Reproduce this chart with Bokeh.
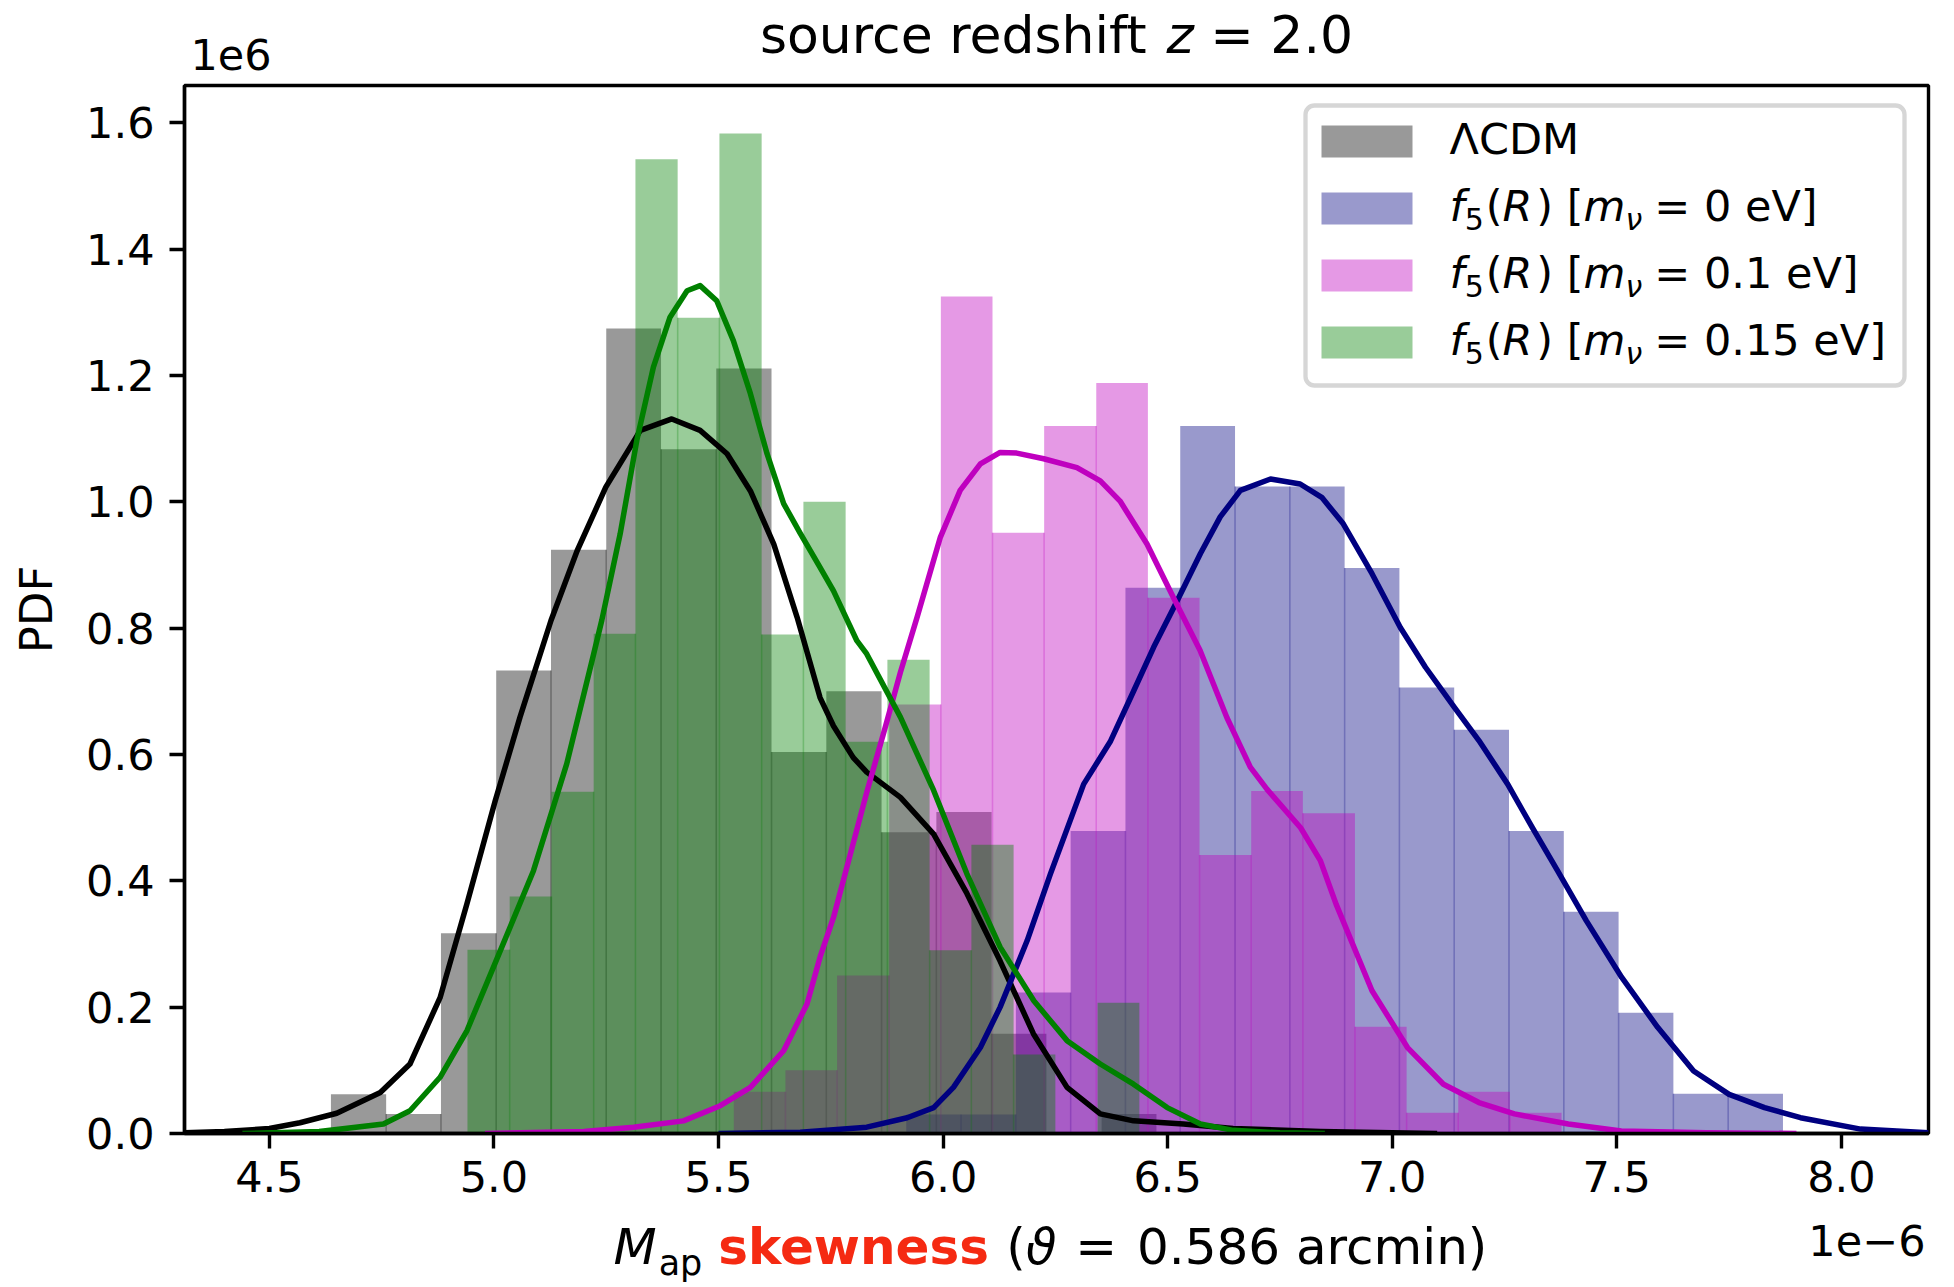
from bokeh.plotting import figure
from bokeh.layouts import column
from bokeh.models import Range1d, FixedTicker, PrintfTickFormatter, Label, BoxAnnotation
from bokeh.embed import file_html
from bokeh.resources import INLINE

# ---------------- data (x in units of 1e-6, PDF in units of 1e6) ----------------
lcdm_edges = [4.637, 4.760, 4.882, 5.005, 5.127, 5.250, 5.372, 5.495, 5.618, 5.740,
              5.863, 5.985, 6.108, 6.230, 6.353, 6.475]
lcdm_pdf = [0.062, 0.031, 0.317, 0.733, 0.924, 1.274, 1.083, 1.211, 0.604, 0.700,
            0.477, 0.509, 0.158, 0.000, 0.031]

f5_0_edges = [5.918, 6.040, 6.162, 6.284, 6.406, 6.528, 6.650, 6.772, 6.894, 7.016,
              7.138, 7.260, 7.382, 7.504, 7.626, 7.748, 7.870]
f5_0_pdf = [0.030, 0.030, 0.223, 0.479, 0.864, 1.120, 1.024, 1.024, 0.895, 0.706,
            0.639, 0.479, 0.351, 0.191, 0.063, 0.063]

f5_01_edges = [5.534, 5.649, 5.764, 5.880, 5.995, 6.110, 6.225, 6.341, 6.456, 6.571,
               6.686, 6.801, 6.917, 7.032, 7.147, 7.262, 7.377]
f5_01_pdf = [0.066, 0.100, 0.250, 0.679, 1.325, 0.951, 1.120, 1.188, 0.848, 0.441,
             0.542, 0.507, 0.169, 0.033, 0.066, 0.033]

f5_015_edges = [4.941, 5.035, 5.128, 5.222, 5.315, 5.409, 5.502, 5.596, 5.689, 5.783,
                5.876, 5.970, 6.063, 6.157, 6.250, 6.344, 6.437]
f5_015_pdf = [0.291, 0.375, 0.541, 0.791, 1.542, 1.291, 1.583, 0.790, 1.000, 0.620,
              0.750, 0.290, 0.457, 0.125, 0.000, 0.207]

kde_lcdm_x = [4.311, 4.40, 4.50, 4.568, 4.65, 4.747, 4.813, 4.880, 4.940, 5.003, 5.058,
              5.127, 5.185, 5.249, 5.326, 5.396, 5.459, 5.519, 5.571, 5.623, 5.675, 5.726,
              5.756, 5.800, 5.830, 5.905, 5.979, 6.053, 6.127, 6.201, 6.276, 6.350, 6.424,
              6.535, 6.646, 6.840, 7.000, 7.100]
kde_lcdm_y = [0.001, 0.003, 0.008, 0.017, 0.032, 0.065, 0.110, 0.215, 0.364, 0.527, 0.659,
              0.812, 0.922, 1.023, 1.113, 1.131, 1.113, 1.076, 1.017, 0.933, 0.817, 0.690,
              0.645, 0.595, 0.572, 0.532, 0.474, 0.380, 0.273, 0.158, 0.073, 0.031, 0.020,
              0.015, 0.008, 0.003, 0.001, 0.000]

kde_f5_0_x = [5.50, 5.682, 5.830, 5.920, 5.979, 6.023, 6.083, 6.127, 6.187, 6.239, 6.313,
              6.372, 6.424, 6.469, 6.521, 6.573, 6.617, 6.662, 6.729, 6.795, 6.843, 6.891,
              6.955, 7.018, 7.074, 7.138, 7.193, 7.257, 7.312, 7.368, 7.432, 7.511, 7.591,
              7.671, 7.750, 7.829, 7.909, 8.043, 8.194]
kde_f5_0_y = [0.000, 0.002, 0.010, 0.025, 0.041, 0.073, 0.136, 0.200, 0.305, 0.411, 0.553,
              0.620, 0.700, 0.770, 0.843, 0.918, 0.976, 1.018, 1.036, 1.028, 1.007, 0.965,
              0.886, 0.801, 0.738, 0.675, 0.622, 0.553, 0.484, 0.416, 0.337, 0.247, 0.168,
              0.099, 0.062, 0.041, 0.025, 0.007, 0.001]

kde_f5_01_x = [4.98, 5.20, 5.311, 5.422, 5.504, 5.571, 5.645, 5.697, 5.726, 5.756, 5.830,
               5.870, 5.905, 5.942, 5.994, 6.038, 6.083, 6.127, 6.164, 6.224, 6.298, 6.350,
               6.394, 6.454, 6.513, 6.572, 6.632, 6.684, 6.721, 6.796, 6.840, 6.875, 6.955,
               7.034, 7.114, 7.193, 7.272, 7.392, 7.510, 7.700, 7.900]
kde_f5_01_y = [0.000, 0.003, 0.010, 0.020, 0.044, 0.073, 0.131, 0.205, 0.279, 0.342, 0.540,
               0.640, 0.730, 0.817, 0.944, 1.018, 1.060, 1.078, 1.077, 1.068, 1.054, 1.033,
               1.001, 0.933, 0.848, 0.765, 0.658, 0.580, 0.545, 0.484, 0.432, 0.363, 0.226,
               0.136, 0.078, 0.049, 0.031, 0.015, 0.004, 0.001, 0.000]

kde_f5_015_x = [4.44, 4.611, 4.754, 4.813, 4.880, 4.940, 5.014, 5.088, 5.162, 5.222, 5.240,
                5.281, 5.318, 5.355, 5.392, 5.430, 5.459, 5.496, 5.533, 5.571, 5.608, 5.645,
                5.682, 5.726, 5.756, 5.808, 5.830, 5.905, 5.979, 6.053, 6.127, 6.202, 6.276,
                6.350, 6.424, 6.499, 6.573, 6.646, 6.750, 6.850]
kde_f5_015_y = [0.000, 0.003, 0.015, 0.036, 0.089, 0.163, 0.289, 0.416, 0.585, 0.759, 0.812,
                0.949, 1.097, 1.213, 1.292, 1.334, 1.342, 1.318, 1.255, 1.171, 1.076, 0.997,
                0.950, 0.896, 0.859, 0.780, 0.759, 0.659, 0.543, 0.411, 0.295, 0.210, 0.147,
                0.110, 0.078, 0.041, 0.015, 0.005, 0.001, 0.000]

x_ticks = [4.5, 5.0, 5.5, 6.0, 6.5, 7.0, 7.5, 8.0]
y_ticks = [0.0, 0.2, 0.4, 0.6, 0.8, 1.0, 1.2, 1.4, 1.6]
mnu_values = ["0", "0.1", "0.15"]

series = [
    ("\u039bCDM", lcdm_edges, lcdm_pdf, kde_lcdm_x, kde_lcdm_y, "#000000"),
    ("f5 0", f5_0_edges, f5_0_pdf, kde_f5_0_x, kde_f5_0_y, "#000080"),
    ("f5 0.1", f5_01_edges, f5_01_pdf, kde_f5_01_x, kde_f5_01_y, "#bf00bf"),
    ("f5 0.15", f5_015_edges, f5_015_pdf, kde_f5_015_x, kde_f5_015_y, "#008000"),
]

# ---------------- layout (canvas pixel geometry) ----------------
W, H = 1954, 1287
TOP_H = 82            # strip holding the title and the 1e6 offset text
MAIN_TOP = 3
MAIN_BOTTOM = 80
L, R, T, B = 184, 1928, 85, 1133       # plot frame in whole-picture pixels
MAIN_H = MAIN_TOP + (B - T) + MAIN_BOTTOM
BOT_Y0 = TOP_H + MAIN_H
BOT_H = H - BOT_Y0
X0, X1 = 4.311, 8.194
Y0, Y1 = 0.0, 1.6588
FONT = "DejaVu Sans"
BASE_CORR = 0.37   # Label baseline correction (fraction of font size)

p = figure(width=W, height=MAIN_H, x_range=Range1d(X0, X1), y_range=Range1d(Y0, Y1),
           output_backend="svg", toolbar_location=None,
           min_border_left=L, min_border_right=W - R, min_border_top=MAIN_TOP,
           min_border_bottom=MAIN_BOTTOM)
p.background_fill_color = "white"
p.border_fill_color = "white"
p.xgrid.visible = False
p.ygrid.visible = False
p.outline_line_color = "black"
p.outline_line_width = 3.4
p.outline_line_alpha = 1.0

for ax in (p.xaxis, p.yaxis):
    ax.axis_line_color = "black"
    ax.axis_line_width = 3.4
    ax.major_tick_out = 15
    ax.major_tick_in = 0
    ax.major_tick_line_width = 3.4
    ax.major_tick_line_color = "black"
    ax.minor_tick_line_color = None
    ax.major_label_text_font = FONT
    ax.major_label_text_font_size = "43px"
    ax.major_label_text_color = "black"
    ax.formatter = PrintfTickFormatter(format="%.1f")
p.xaxis.major_label_standoff = 12
p.yaxis.major_label_standoff = 15
p.xaxis.ticker = FixedTicker(ticks=x_ticks)
p.yaxis.ticker = FixedTicker(ticks=y_ticks)
p.yaxis.axis_label = "PDF"
p.yaxis.axis_label_text_font = FONT
p.yaxis.axis_label_text_font_size = "45px"
p.yaxis.axis_label_text_font_style = "normal"
p.yaxis.axis_label_text_color = "black"
p.yaxis.axis_label_standoff = 20

# histograms
for name, edges, pdf, kx, ky, col in series:
    p.quad(left=edges[:-1], right=edges[1:], bottom=0, top=pdf,
           fill_color=col, fill_alpha=0.4, line_color=None)
    seam_x = edges[1:-1]
    seam_top = [min(pdf[i], pdf[i + 1]) for i in range(len(pdf) - 1)]
    p.segment(x0=seam_x, y0=[0] * len(seam_x), x1=seam_x, y1=seam_top,
              line_color=col, line_alpha=0.3, line_width=1.5)

# KDE lines (above all bars)
for name, edges, pdf, kx, ky, col in series:
    p.line(kx, ky, line_color=col, line_width=5.5, line_join="round")


def strip(height):
    # text strip whose frame is aligned with the main plot frame (pixel data units)
    f = figure(width=W, height=height, x_range=Range1d(L, R), y_range=Range1d(0, height),
               output_backend="svg", toolbar_location=None, title=None,
               x_axis_type=None, y_axis_type=None,
               min_border_left=L, min_border_right=W - R, min_border_top=0, min_border_bottom=0)
    f.outline_line_color = None
    f.background_fill_color = "white"
    f.border_fill_color = "white"
    return f


top = strip(TOP_H)
bot = strip(BOT_H)

# ---------------- text helpers ----------------
REG = {' ': .318, '(': .390, ')': .390, '[': .390, ']': .390, '=': .838, '.': .318,
       'a': .613, 'c': .550, 'd': .635, 'e': .615, 'f': .352, 'h': .634, 'i': .278,
       'k': .579, 'm': .974, 'n': .634, 'o': .612, 'p': .635, 'r': .411, 's': .521,
       't': .392, 'u': .634, 'w': .818, 'z': .525, 'C': .698, 'D': .770, 'M': .863,
       'R': .695, 'V': .684, '\u039b': .684, '\u03bd': .592, '\u03d1': .630}
BOLD = {'s': .595, 'k': .665, 'e': .678, 'w': .924, 'n': .712}


def tw(s, size, bold=False):
    tot = 0.0
    for ch in s:
        if ch.isdigit():
            tot += .636
        elif bold and ch in BOLD:
            tot += BOLD[ch]
        else:
            tot += REG.get(ch, .6)
    return tot * size


def to_data(fig, px, py):
    """whole-picture pixel -> data coordinates of the given figure"""
    if fig is top:
        return px, TOP_H - py
    if fig is bot:
        return px, H - py
    return (X0 + (px - L) * (X1 - X0) / (R - L),
            Y0 + (B - py) * (Y1 - Y0) / (B - T))


def put(fig, text, px, py, size, style="normal", color="black", align="left"):
    x, y = to_data(fig, px, py - BASE_CORR * size)
    fig.add_layout(Label(x=x, y=y, x_units="data", y_units="data", text=text,
                         text_font=FONT, text_font_size=f"{size}px", text_font_style=style,
                         text_color=color, text_align=align, text_baseline="alphabetic"))


def run(fig, pieces, px, py):
    """pieces: (text, size, style, color, dy_shift, gap_after)"""
    x = px
    for text, size, style, color, shift, gap in pieces:
        put(fig, text, x, py + shift, size, style, color)
        x += tw(text, size, bold=(style == "bold")) + gap
    return x


# title
ts = 52
title_pieces = [("source redshift", ts, "normal", "black", 0, tw(" ", ts)),
                ("z", ts, "italic", "black", 0, tw(" ", ts)),
                ("= 2.0", ts, "normal", "black", 0, 0)]
total = sum(tw(t, s, st == "bold") + g for t, s, st, c, sh, g in title_pieces)
run(top, title_pieces, (L + R) / 2 - total / 2, 54)
put(top, "1e6", 190, 70, 43)

# x axis label
xs = 50
red = "#f52a12"
run(bot, [("M", xs, "italic", "black", 0, 2),
          ("ap", int(xs * 0.7), "normal", "black", 10, tw(" ", xs)),
          ("skewness", xs, "bold", red, 0, tw(" ", xs)),
          ("(", xs, "normal", "black", 0, 0),
          ("\u03d1", xs, "italic", "black", 0, tw(" ", xs) + 2),
          ("=", xs, "normal", "black", 0, tw(" ", xs) + 4),
          ("0.586 arcmin)", xs, "normal", "black", 0, 0)], 613, 1265)
put(bot, "1e\u22126", R - 3, 1256, 43, align="right")

# legend
p.add_layout(BoxAnnotation(left=to_data(p, 1305, 0)[0], right=to_data(p, 1904, 0)[0],
                           top=to_data(p, 0, 105)[1], bottom=to_data(p, 0, 385)[1],
                           fill_color="white", fill_alpha=0.8, line_color="#cccccc",
                           line_alpha=0.8, line_width=4.3, border_radius=9))
ls = 43
row_base = [154, 221, 288, 355]
for i, (name, edges, pdf, kx, ky, col) in enumerate(series):
    yb = row_base[i]
    p.add_layout(BoxAnnotation(left=to_data(p, 1321, 0)[0], right=to_data(p, 1412, 0)[0],
                               top=to_data(p, 0, yb - 29)[1], bottom=to_data(p, 0, yb + 3)[1],
                               fill_color=col, fill_alpha=0.4, line_color=None))
    if i == 0:
        put(p, name, 1449, yb, ls)
    else:
        sub = int(ls * 0.7)
        run(p, [("f", ls, "italic", "black", 0, 0),
                ("5", sub, "normal", "black", 9, 2),
                ("(", ls, "normal", "black", 0, 0),
                ("R", ls, "italic", "black", 0, 4),
                (") [", ls, "normal", "black", 0, 0),
                ("m", ls, "italic", "black", 0, 0),
                ("\u03bd", sub, "italic", "black", 9, 11),
                ("= " + mnu_values[i - 1] + " eV]", ls, "normal", "black", 0, 0)], 1449, yb)

layout = column(top, p, bot, spacing=0)
open("out.html", "w").write(file_html(layout, INLINE))
